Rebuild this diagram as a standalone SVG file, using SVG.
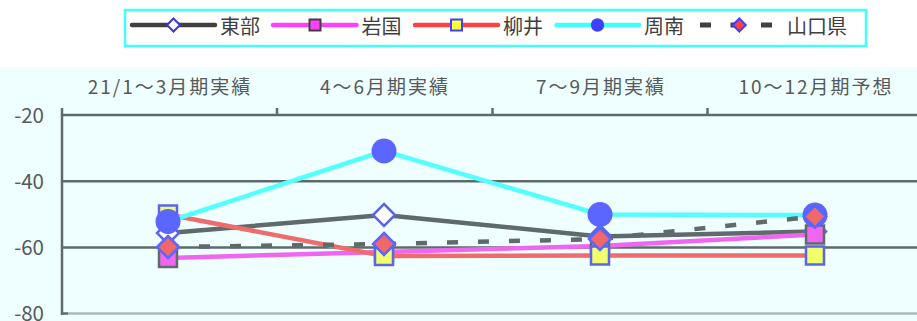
<svg xmlns="http://www.w3.org/2000/svg" width="917" height="321" viewBox="0 0 917 321">
<style>
text{font-family:"Noto Sans CJK JP","Noto Sans",sans-serif;fill:#555a5a}
.cat{font-size:19px;letter-spacing:2px;text-anchor:middle}
.yl{font-size:20.5px;text-anchor:end}
.lg{font-size:20px;fill:#404040}
.grid{stroke:#5f6b6b;stroke-width:2.5;fill:none}
.ln{fill:none;stroke-width:4.5;stroke-linejoin:round;stroke-linecap:butt}
.lgl{fill:none;stroke-width:4.5;stroke-linecap:round}
</style>
<defs>
<path id="dia" d="M0,-11 L11,0 L0,11 L-11,0 Z"/>
<rect id="sq" x="-9" y="-9" width="18" height="18"/>
<circle id="cir" r="12.5"/>
<path id="ldia" d="M0,-6.5 L6.5,0 L0,6.5 L-6.5,0 Z"/>
<rect id="lsq" x="-5.5" y="-5.5" width="11" height="11"/>
</defs>
<rect x="0" y="0" width="917" height="321" fill="#ffffff"/>
<rect id="plot-bg" x="0" y="67" width="917" height="254" fill="#effefe"/>
<g id="axes">
<line class="grid" x1="62" y1="115" x2="917" y2="115"/>
<line class="grid" x1="62" y1="181.2" x2="917" y2="181.2"/>
<line class="grid" x1="62" y1="247.4" x2="917" y2="247.4"/>
<line x1="68" y1="313.5" x2="917" y2="313.5" stroke="#a8baba" stroke-width="2.5"/>
<line x1="61" y1="313.5" x2="68" y2="313.5" stroke="#5f6b6b" stroke-width="2.5"/>
<line class="grid" x1="62" y1="108" x2="62" y2="315"/>
<line class="grid" x1="277" y1="108" x2="277" y2="115" stroke-width="2"/>
<line class="grid" x1="492.5" y1="108" x2="492.5" y2="115" stroke-width="2"/>
<line class="grid" x1="707.5" y1="108" x2="707.5" y2="115" stroke-width="2"/>
</g>
<g id="labels">
<text class="cat" x="170" y="94">21/1〜3月期実績</text>
<text class="cat" x="385" y="94">4〜6月期実績</text>
<text class="cat" x="601" y="94">7〜9月期実績</text>
<text class="cat" x="816" y="94">10〜12月期予想</text>
<text class="yl" x="44" y="122.5">-20</text>
<text class="yl" x="44" y="188.5">-40</text>
<text class="yl" x="44" y="254.5">-60</text>
<text class="yl" x="44" y="320.5">-80</text>
</g>
<g id="connectors">
<g id="series-tobu">
<polyline class="ln" stroke="#5f6b6b" points="168,233 384,215 600,236.5 815,231.5"/>
<g fill="#ffffff" stroke="#5a66e6" stroke-width="2.5">
<use href="#dia" x="168" y="233"/><use href="#dia" x="384" y="215"/><use href="#dia" x="600" y="236.5"/><use href="#dia" x="815" y="231.5"/>
</g>
</g>
<g id="series-iwakuni">
<polyline class="ln" stroke="#f066f0" points="168,258 384,252 600,246 815,234.5"/>
<g fill="#f066f0" stroke="#5f6b6b" stroke-width="2.5">
<use href="#sq" x="168" y="258"/><use href="#sq" x="384" y="252"/><use href="#sq" x="600" y="246"/><use href="#sq" x="815" y="234.5"/>
</g>
</g>
<g id="series-yanai">
<polyline class="ln" stroke="#f06c6c" points="168,214.5 384,256 600,255.5 815,255.5"/>
<g fill="#f2ff6c" stroke="#5a66e6" stroke-width="2.5">
<use href="#sq" x="168" y="214.5"/><use href="#sq" x="384" y="256"/><use href="#sq" x="600" y="255.5"/><use href="#sq" x="815" y="255.5"/>
</g>
</g>
<g id="series-shunan">
<polyline class="ln" stroke="#55ffff" points="168,221.5 384,151 600,214.5 815,215"/>
<g fill="#5a66ff">
<use href="#cir" x="168" y="221.5"/><use href="#cir" x="384" y="151"/><use href="#cir" x="600" y="214.5"/><use href="#cir" x="815" y="215"/>
</g>
</g>
<g id="series-yamaguchi">
<polyline class="ln" stroke="#5f6b6b" stroke-dasharray="11 20" points="168,247 384,244 600,239 815,216.5"/>
<g fill="#f06868" stroke="#5a66ff" stroke-width="2.5">
<use href="#dia" x="168" y="247"/><use href="#dia" x="384" y="244"/><use href="#dia" x="600" y="239"/><use href="#dia" x="815" y="216.5"/>
</g>
</g>
</g>
<g id="legend">
<rect x="125" y="10" width="741" height="36" fill="#ffffff" stroke="#40ffff" stroke-width="2.5"/>
<g id="legend-tobu">
<line class="lgl" stroke="#404040" x1="132" y1="25" x2="215" y2="25"/>
<use href="#ldia" x="173.5" y="25" fill="#ffffff" stroke="#3b3bc8" stroke-width="2"/>
<text class="lg" x="220" y="34">東部</text>
</g>
<g id="legend-iwakuni">
<line class="lgl" stroke="#ff40ff" x1="273" y1="25" x2="356.5" y2="25"/>
<use href="#lsq" x="315" y="25" fill="#ff40ff" stroke="#404040" stroke-width="2"/>
<text class="lg" x="361.5" y="34">岩国</text>
</g>
<g id="legend-yanai">
<line class="lgl" stroke="#ff4040" x1="415" y1="25" x2="498" y2="25"/>
<use href="#lsq" x="456.5" y="25" fill="#ffff40" stroke="#4040ff" stroke-width="2"/>
<text class="lg" x="503" y="34">柳井</text>
</g>
<g id="legend-shunan">
<line class="lgl" stroke="#40ffff" x1="556.5" y1="25" x2="639" y2="25"/>
<circle cx="597.5" cy="25" r="6.7" fill="#4040ff"/>
<text class="lg" x="644" y="34">周南</text>
</g>
<g id="legend-yamaguchi">
<line stroke="#404040" stroke-width="5" stroke-dasharray="11 19.5" x1="700" y1="25" x2="772" y2="25"/>
<use href="#ldia" x="739.3" y="25" fill="#ff4040" stroke="#4040ff" stroke-width="2"/>
<text class="lg" x="787" y="34">山口県</text>
</g>
</g>
</svg>
